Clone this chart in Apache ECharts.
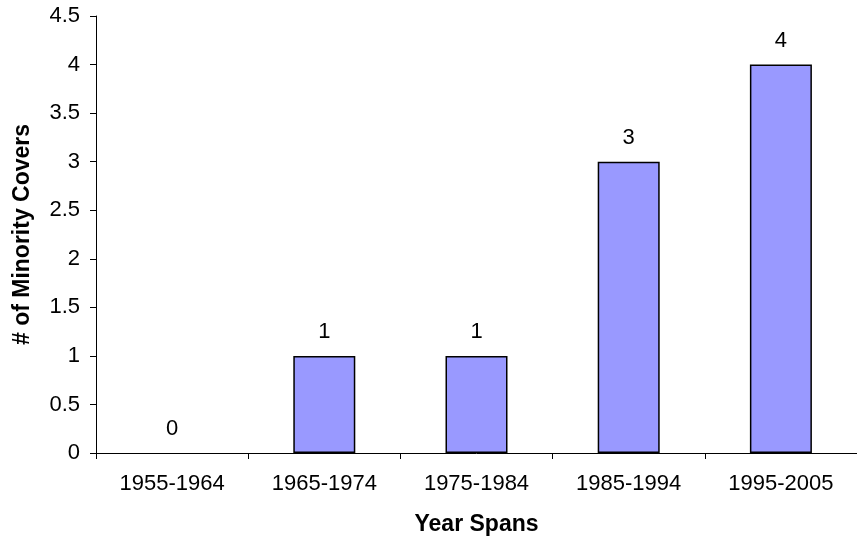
<!DOCTYPE html>
<html><head><meta charset="utf-8">
<script src="https://cdn.jsdelivr.net/npm/echarts@6/dist/echarts.min.js"></script>
<style>html,body{margin:0;padding:0;background:#fff}#c{width:857px;height:541px}</style>
</head><body><div id="c"></div>
<script>
const categories = ['1955-1964','1965-1974','1975-1984','1985-1994','1995-2005'];
const values = [0, 1, 1, 3, 4];
const yTicks = ['0','0.5','1','1.5','2','2.5','3','3.5','4','4.5'];

const chart = echarts.init(document.getElementById('c'));
chart.setOption({
  animation: false,
  backgroundColor: '#fff',
  grid: {left: 96, right: -4, top: 16, bottom: 88},
  xAxis: {
    type: 'category', data: categories,
    name: 'Year Spans', nameLocation: 'middle', nameGap: 60,
    nameTextStyle: {fontFamily: 'Liberation Sans', fontWeight: 'bold', fontSize: 23, color: '#000'},
    axisLine: {lineStyle: {color: '#000', width: 1}},
    axisTick: {show: true, alignWithLabel: false, length: 6, lineStyle: {color: '#000'}},
    axisLabel: {fontFamily: 'Liberation Sans', fontSize: 22, color: '#000', margin: 20}
  },
  yAxis: {
    type: 'value', min: 0, max: 4.5, interval: 0.5,
    name: '# of Minority Covers', nameLocation: 'middle', nameGap: 62, nameRotate: 90,
    nameTextStyle: {fontFamily: 'Liberation Sans', fontWeight: 'bold', fontSize: 23, color: '#000'},
    axisLine: {show: true, lineStyle: {color: '#000', width: 1}},
    axisTick: {show: true, length: 6, lineStyle: {color: '#000'}},
    splitLine: {show: false},
    axisLabel: {fontFamily: 'Liberation Sans', fontSize: 22, color: '#000', margin: 16,
      formatter: v => yTicks[Math.round(v * 2)]}
  },
  series: [{
    type: 'bar', barWidth: 62,
    data: values.map(v => v === 0 ? {value: v, itemStyle: {borderWidth: 0}} : v),
    itemStyle: {color: '#9999FF', borderColor: '#000', borderWidth: 1.5},
    label: {show: true, position: 'top', distance: 13, fontFamily: 'Liberation Sans', fontSize: 22, color: '#000'}
  }]
});
</script></body></html>
